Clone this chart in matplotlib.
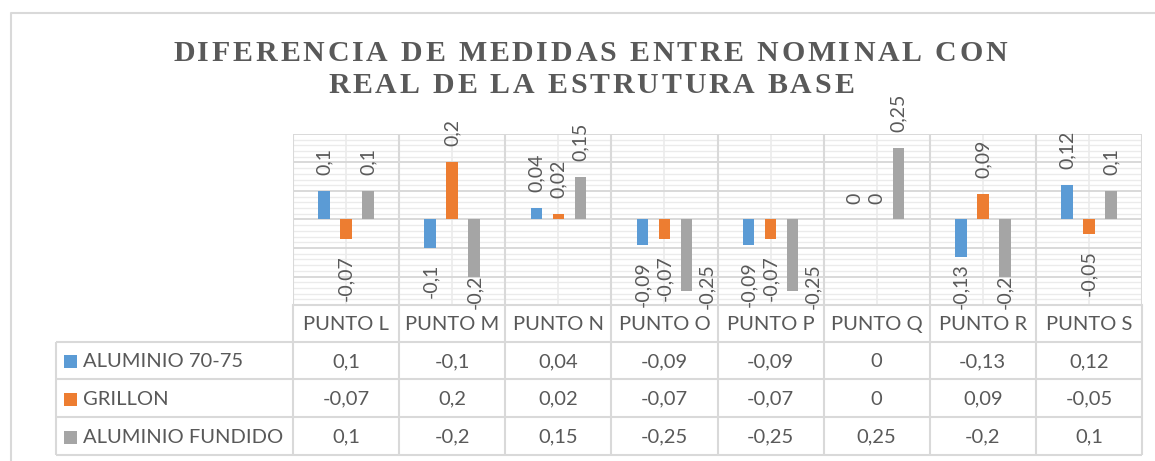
import matplotlib
matplotlib.use("Agg")
import matplotlib.pyplot as plt
from matplotlib.transforms import blended_transform_factory
import numpy as np

# ---- data -------------------------------------------------------------
categories = ["PUNTO L", "PUNTO M", "PUNTO N", "PUNTO O",
              "PUNTO P", "PUNTO Q", "PUNTO R", "PUNTO S"]
series_names = ["ALUMINIO 70-75", "GRILLON", "ALUMINIO FUNDIDO"]
aluminio_70_75 = [0.1, -0.1, 0.04, -0.09, -0.09, 0, -0.13, 0.12]
grillon = [-0.07, 0.2, 0.02, -0.07, -0.07, 0, 0.09, -0.05]
aluminio_fundido = [0.1, -0.2, 0.15, -0.25, -0.25, 0.25, -0.2, 0.1]
title_lines = ["DIFERENCIA DE MEDIDAS ENTRE NOMINAL CON",
               "REAL DE LA ESTRUTURA BASE"]

series = [aluminio_70_75, grillon, aluminio_fundido]
colors = ["#5B9BD5", "#ED7D31", "#A5A5A5"]
TXT = "#595959"
GRID = "#D9D9D9"
GRID_LIGHT = "#EBEBEB"
FONT = ["Lato", "DejaVu Sans"]
TABLE_FS = 14.5
LABEL_FS = 14


def fmt(v):
    return f"{v:g}".replace(".", ",")


W, H = 1155, 461
fig = plt.figure(figsize=(W / 100, H / 100), dpi=100)

# full-figure overlay in pixel units (y pointing down) for frame, title, table
ov = fig.add_axes([0, 0, 1, 1])
ov.set_xlim(0, W)
ov.set_ylim(H, 0)
ov.axis("off")

# chart frame
ov.plot([11, 11, W], [H, 13, 13], color=GRID, lw=1.5, solid_capstyle="butt")

# plot area
px_l, px_r, px_t, px_b = 293, 1142, 134, 305
ax = fig.add_axes([px_l / W, 1 - px_b / H, (px_r - px_l) / W, (px_b - px_t) / H])
ax.patch.set_visible(False)
ax.set_xlim(-0.5, len(categories) - 0.5)
ax.set_ylim(-0.3, 0.3)
for s in ax.spines.values():
    s.set_visible(False)
ax.set_xticks([])
ax.set_yticks([])

# horizontal gridlines: major every 0.1, minor every 0.02
for k in range(-15, 16):
    y = k * 0.02
    major = k % 5 == 0
    ax.axhline(y, color=GRID if major else GRID_LIGHT,
               lw=1.4 if major else 1.0, zorder=1 if major else 0.5)
# vertical lines: category boundaries and centres
for i in range(len(categories) + 1):
    ax.axvline(i - 0.5, color=GRID, lw=1.5, zorder=1)
for i in range(len(categories)):
    ax.axvline(i, color=GRID_LIGHT, lw=1.2, zorder=0.5)

# bars
x = np.arange(len(categories))
offsets = [-0.207, 0.0, 0.207]
bar_w = 0.108
labels = []
for vals, off, col in zip(series, offsets, colors):
    ax.bar(x + off, vals, width=bar_w, color=col, zorder=3)
    for xi, v in zip(x, vals):
        gap = 16
        ann = ax.annotate(fmt(v), (xi + off, v), xytext=(0, gap if v >= 0 else -gap),
                          textcoords="offset pixels", rotation=90,
                          ha="center", va="bottom" if v >= 0 else "top",
                          fontsize=LABEL_FS, color=TXT, family=FONT,
                          annotation_clip=False, zorder=4)
        labels.append((ann, xi + off, v))

# keep negative labels from running far below the plot; shift aside if they
# would then collide with their own bar
fig.canvas.draw()
renderer = fig.canvas.get_renderer()
limit = H - 309
for ann, xb, v in labels:
    if v >= 0:
        continue
    bb = ann.get_window_extent(renderer)
    if bb.y0 < limit:
        dy = limit - bb.y0
        bar_end = ax.transData.transform((xb, v))[1]
        dx = 20 if (bb.y1 + dy) - bar_end > 6 else 0
        ox, oy = ann.xyann
        ann.xyann = (ox + dx, oy + dy)

# ---- data table -------------------------------------------------------
trans = blended_transform_factory(ax.transData, ov.transData)
row_edges = [305, 342, 379, 417, 455]
leg_l = 56
for i in range(len(categories) + 1):
    ov.plot([i - 0.5, i - 0.5], [row_edges[0], row_edges[-1]], color=GRID,
            lw=1.5, transform=trans, solid_capstyle="butt")
ov.plot([px_l, px_r], [row_edges[0]] * 2, color=GRID, lw=1.5)
for ye in row_edges[1:]:
    ov.plot([leg_l, px_r], [ye, ye], color=GRID, lw=1.5, solid_capstyle="butt")
ov.plot([leg_l, leg_l], [row_edges[1], row_edges[-1]], color=GRID, lw=1.5,
        solid_capstyle="butt")

hdr_y = (row_edges[0] + row_edges[1]) / 2 + 1
for i, c in enumerate(categories):
    ov.text(i, hdr_y, c, transform=trans, ha="center", va="center",
            fontsize=TABLE_FS, color=TXT, family=FONT)
for r, (name, vals, col) in enumerate(zip(series_names, series, colors)):
    yc = (row_edges[r + 1] + row_edges[r + 2]) / 2 + 1
    ov.add_patch(plt.Rectangle((64, yc - 6.5), 13, 13, color=col, lw=0))
    ov.text(83, yc, name, ha="left", va="center", fontsize=TABLE_FS,
            color=TXT, family=FONT)
    for i, v in enumerate(vals):
        ov.text(i, yc, fmt(v), transform=trans, ha="center", va="center",
                fontsize=TABLE_FS, color=TXT, family=FONT)

# ---- letter-spaced title ---------------------------------------------
title_kw = dict(fontsize=21.5, fontweight="bold", color=TXT,
                family=["Liberation Serif", "DejaVu Serif"])


def char_widths(text):
    ws = []
    for ch in text:
        if ch == " ":
            a = ov.text(0, 0, "II", **title_kw)
            b = ov.text(0, 0, "I I", **title_kw)
            w = b.get_window_extent(renderer).width - a.get_window_extent(renderer).width
            a.remove()
            b.remove()
        else:
            t = ov.text(0, 0, ch, **title_kw)
            w = t.get_window_extent(renderer).width
            t.remove()
        ws.append(w)
    return ws


def draw_spaced(text, xc, baseline, spacing):
    ws = char_widths(text)
    total = sum(ws) + spacing * (len(text) - 1)
    xp = xc - total / 2
    for ch, w in zip(text, ws):
        if ch != " ":
            ov.text(xp, baseline, ch, ha="left", va="baseline", **title_kw)
        xp += w + spacing


w1 = char_widths(title_lines[0])
spacing = (834 - sum(w1)) / (len(title_lines[0]) - 1)
draw_spaced(title_lines[0], 590, 61, spacing)
draw_spaced(title_lines[1], 591, 93, spacing)

fig.savefig("out.png", dpi=100)
